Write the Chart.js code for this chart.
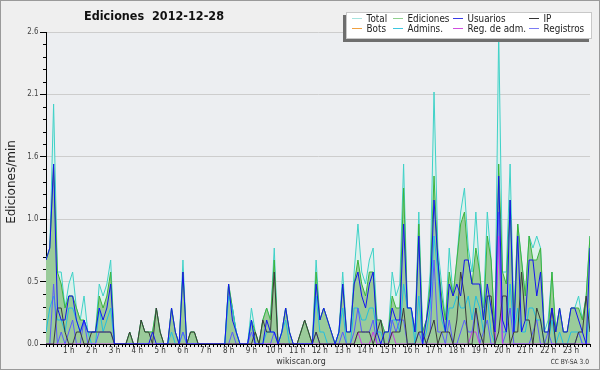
<!DOCTYPE html>
<html>
<head>
<meta charset="utf-8">
<title>Ediciones 2012-12-28</title>
<script src="https://cdn.jsdelivr.net/npm/chart.js@4.4.0/dist/chart.umd.min.js"></script>
<style>
  html, body { margin: 0; padding: 0; background: #efefef; }
  #wrap { width: 600px; height: 370px; }
</style>
</head>
<body>
<div id="wrap"><canvas id="chart" width="600" height="370"></canvas></div>
<script>
// one value every 10 minutes (144 per day), edits per minute
const hourLabels = ['1 h','2 h','3 h','4 h','5 h','6 h','7 h','8 h','9 h','10 h','11 h','12 h',
  '13 h','14 h','15 h','16 h','17 h','18 h','19 h','20 h','21 h','22 h','23 h'];
const yTicks = [0, 0.52, 1.04, 1.56, 2.08, 2.6];

const total = [
  .7, .8, 2.0, .6, .6, .3, .5, .6, .3, .2, .4, .1,
  .1, .1, .5, .4, .5, .7, 0, 0, 0, 0, .1, 0,
  0, .2, .1, .1, .1, .3, .1, 0, 0, .3, .1, 0,
  .7, 0, .1, .1, 0, 0, 0, 0, 0, 0, 0, 0,
  .5, .3, .1, 0, 0, 0, .3, .1, 0, .2, .3, .2,
  .8, 0, .1, .3, .1, 0, 0, .1, .2, .1, 0, .7,
  .2, .3, .2, .1, 0, .1, .6, .1, .1, .6, 1.0, .6,
  .5, .7, .8, .2, .2, .1, .1, .6, .4, .5, 1.5, .3,
  .3, .1, 1.1, .1, .2, .6, 2.1, .8, .5, .2, .8, .4,
  .7, 1.1, 1.3, .8, .6, 1.1, .6, .3, 1.1, .7, .1, 2.6,
  .6, .6, 1.5, .2, 1.0, .7, .4, .9, .8, .9, .8, .1,
  .2, .6, .1, .3, .1, .1, .3, .3, .4, .2, .4, .9
];
const ediciones = [
  .7, .8, 1.5, .6, .5, .3, .4, .4, .3, .2, .2, .1,
  .1, .1, .4, .3, .4, .6, 0, 0, 0, 0, .1, 0,
  0, .2, .1, .1, .1, .3, .1, 0, 0, .3, .1, 0,
  .6, 0, .1, .1, 0, 0, 0, 0, 0, 0, 0, 0,
  .5, .3, .1, 0, 0, 0, .2, .1, 0, .2, .3, .2,
  .7, 0, .1, .3, .1, 0, 0, .1, .2, .1, 0, .6,
  .2, .3, .2, .1, 0, .1, .5, .1, .1, .5, .7, .5,
  .4, .6, .6, .2, .2, .1, .1, .4, .3, .3, 1.3, .3,
  .3, .1, 1.0, .1, .2, .5, 1.4, .7, .4, .2, .6, .4,
  .7, 1.0, 1.1, .7, .5, .8, .6, .2, .9, .7, .1, 1.5,
  .6, .5, 1.2, .2, 1.0, .7, .4, .9, .7, .7, .8, .1,
  .1, .6, .1, .3, .1, .1, .3, .3, .3, .2, .4, .9
];
const usuarios = [
  .7, .8, 1.5, .3, .2, .2, .4, .4, .2, .1, .2, .1,
  .1, .1, .3, .2, .3, .5, 0, 0, 0, 0, 0, 0,
  0, 0, 0, 0, .1, 0, 0, 0, 0, .3, .1, 0,
  .6, 0, 0, 0, 0, 0, 0, 0, 0, 0, 0, 0,
  .5, .2, .1, 0, 0, 0, .2, 0, 0, 0, .2, .1,
  .1, 0, .1, .3, .1, 0, 0, 0, 0, 0, 0, .5,
  .2, .3, .2, .1, 0, .1, .5, .1, .1, .5, .6, .4,
  .3, .5, .6, .1, 0, .1, .1, .3, .2, .2, 1.0, .3,
  .3, .1, .9, 0, .2, .4, 1.2, .7, .3, .1, .5, .4,
  .5, .4, .7, .7, .5, .5, .5, .2, .5, .3, .1, 1.4,
  .2, .1, 1.2, .1, .9, .1, .2, .7, .7, .4, .6, .1,
  .1, .3, .1, .3, .1, .1, .3, .3, .2, .1, 0, .8
];
const ip = [
  0, 0, 0, .3, .3, .1, 0, 0, .1, .1, 0, 0,
  .1, .1, .1, .1, .1, .1, 0, 0, 0, 0, .1, 0,
  0, .2, .1, .1, 0, .3, .1, 0, 0, 0, 0, 0,
  0, 0, .1, .1, 0, 0, 0, 0, 0, 0, 0, 0,
  0, 0, 0, 0, 0, 0, 0, .1, 0, .2, .1, .1,
  .6, 0, 0, 0, 0, 0, 0, .1, .2, .1, 0, .1,
  0, 0, 0, 0, 0, 0, 0, 0, 0, 0, .1, .1,
  .1, .1, 0, .1, .2, 0, 0, .1, .1, .1, .3, 0,
  0, 0, .1, .1, 0, .1, .2, 0, .1, .1, .1, 0,
  .2, .6, .4, 0, 0, .3, .1, 0, .4, .4, 0, .1,
  .4, .4, 0, .1, .1, .6, .2, .2, 0, .3, .2, 0,
  0, .3, 0, 0, 0, 0, 0, 0, .1, .1, .4, .1
];
const admins = [
  .1, .3, .4, .2, .2, .1, .3, .3, .2, .1, .2, .1,
  0, 0, .3, .1, .2, .3, 0, 0, 0, 0, 0, 0,
  0, 0, 0, 0, 0, 0, 0, 0, 0, .1, 0, 0,
  .1, 0, 0, 0, 0, 0, 0, 0, 0, 0, 0, 0,
  .4, .3, .1, 0, 0, 0, .2, 0, 0, 0, .1, .1,
  .1, 0, .1, .2, 0, 0, 0, 0, 0, 0, 0, .4,
  .1, .1, 0, 0, 0, .1, .3, 0, 0, .3, .3, .2,
  .2, .3, .3, .1, .1, 0, 0, .2, .2, .1, .5, .3,
  .3, 0, .4, 0, .1, .3, .9, .6, .2, .1, .3, .3,
  .4, .3, .3, .4, .2, .4, .3, .1, .4, .1, 0, .9,
  .1, .1, .5, .1, .3, .1, .1, .3, .3, .2, .2, 0,
  0, .2, 0, .1, 0, 0, .1, .1, .1, 0, 0, .3
];
const registros = [
  0, 0, .5, 0, .1, 0, .1, .2, 0, 0, .2, 0,
  0, 0, .1, .1, .1, .1, 0, 0, 0, 0, 0, 0,
  0, 0, 0, 0, 0, 0, 0, 0, 0, 0, 0, 0,
  .1, 0, 0, 0, 0, 0, 0, 0, 0, 0, 0, 0,
  0, .1, 0, 0, 0, 0, .1, 0, 0, 0, 0, 0,
  .1, 0, 0, 0, 0, 0, 0, 0, 0, 0, 0, .1,
  0, 0, 0, 0, 0, 0, .1, 0, 0, .1, .3, .1,
  .1, .1, .2, 0, 0, 0, 0, .2, .1, .2, .2, 0,
  0, 0, .1, 0, 0, .1, .7, .1, .1, 0, .2, 0,
  0, .1, .2, .1, .1, .3, 0, .1, .2, 0, 0, 1.1,
  0, .1, .3, 0, 0, 0, 0, 0, .1, .2, 0, 0,
  .1, 0, 0, 0, 0, 0, 0, 0, .1, 0, 0, 0
];
const regAdm = [
  0, 0, 0, 0, 0, 0, 0, 0, 0, 0, 0, 0,
  0, 0, 0, 0, 0, 0, 0, 0, 0, 0, 0, 0,
  0, 0, 0, 0, 0, 0, 0, 0, 0, 0, 0, 0,
  0, 0, 0, 0, 0, 0, 0, 0, 0, 0, 0, 0,
  0, 0, 0, 0, 0, 0, 0, 0, 0, 0, 0, 0,
  0, 0, 0, 0, 0, 0, 0, 0, 0, 0, 0, 0,
  0, 0, 0, 0, 0, 0, 0, 0, 0, 0, .1, 0,
  0, 0, .1, 0, 0, 0, 0, .1, 0, 0, 0, 0,
  0, 0, 0, 0, 0, 0, 0, 0, 0, 0, 0, 0,
  0, 0, 0, 0, .1, .1, 0, 0, 0, 0, 0, .9,
  0, 0, 0, 0, 0, 0, 0, 0, 0, 0, 0, 0,
  0, 0, 0, 0, 0, 0, 0, 0, 0, 0, 0, 0
];

// legend entries, in the reference's order (Bots has no edits this day)
const legendItems = [
  ['Total', '#a6e3de'], ['Ediciones', '#8fd08f'], ['Usuarios', '#3a3ae6'], ['IP', '#333333'],
  ['Bots', '#f0a040'], ['Admins.', '#3cc6e0'], ['Reg. de adm.', '#d04ee0'], ['Registros', '#7c7cf4']
];

const FONT = '"DejaVu Sans", Verdana, sans-serif';
const pts = arr => arr.map((v, i) => ({ x: i, y: v }));

// text squeezed horizontally, the reference uses a narrow face
function txt(ctx, s, x, y, font, sx, align) {
  ctx.save();
  ctx.font = font;
  ctx.translate(x, y);
  ctx.scale(sx, 1);
  ctx.textAlign = align || 'center';
  ctx.textBaseline = 'middle';
  ctx.fillText(s, 0, 0);
  ctx.restore();
}

// fondo, titulo, leyenda y textos
const decor = {
  id: 'decor',
  beforeDraw(chart) {
    const { ctx, chartArea: a } = chart;
    ctx.save();
    ctx.fillStyle = '#efefef';
    ctx.fillRect(0, 0, 600, 370);
    ctx.strokeStyle = '#9a9a9a';
    ctx.lineWidth = 1;
    ctx.strokeRect(0.5, 0.5, 599, 369);
    ctx.fillStyle = '#eceef1';
    ctx.fillRect(a.left, a.top, a.right - a.left, a.bottom - a.top);
    ctx.restore();
  },
  afterDraw(chart) {
    const { ctx, chartArea: a } = chart;
    const x = chart.scales.x, y = chart.scales.y;
    ctx.save();

    // minor ticks on the y axis
    ctx.strokeStyle = '#000';
    ctx.lineWidth = 1;
    for (let k = 1; k < 25; k++) {
      if (k % 5 === 0) continue;
      const py = Math.round(y.getPixelForValue(k * 0.104)) + 0.5;
      ctx.beginPath();
      ctx.moveTo(a.left - 3, py);
      ctx.lineTo(a.left, py);
      ctx.stroke();
    }

    // tick labels
    ctx.fillStyle = '#444';
    yTicks.forEach(v => txt(ctx, v.toFixed(1), 38.5, y.getPixelForValue(v), '8px ' + FONT, 0.88, 'right'));
    ctx.fillStyle = '#333';
    hourLabels.forEach((s, h) => txt(ctx, s, x.getPixelForValue((h + 1) * 6), 350.5, '9px ' + FONT, 0.8));

    // title
    ctx.fillStyle = '#111';
    txt(ctx, 'Ediciones  2012-12-28', 154, 16.5, 'bold 12.5px ' + FONT, 0.9);

    // y title
    ctx.save();
    ctx.translate(12, 182);
    ctx.rotate(-Math.PI / 2);
    ctx.fillStyle = '#222';
    txt(ctx, 'Ediciones/min', 0, 0, '12px ' + FONT, 1);
    ctx.restore();

    // footer
    ctx.fillStyle = '#333';
    txt(ctx, 'wikiscan.org', 301, 361.5, '9px ' + FONT, 0.88);
    txt(ctx, 'CC BY-SA 3.0', 589, 362.5, '7px ' + FONT, 0.85, 'right');

    // legend box with shadow
    ctx.fillStyle = '#6e6e6e';
    ctx.fillRect(343, 15, 246, 27);
    ctx.fillStyle = '#ffffff';
    ctx.fillRect(346, 12, 246, 27);
    ctx.strokeStyle = '#c8c8c8';
    ctx.strokeRect(346.5, 12.5, 245, 26);
    const colX = [352, 393, 453, 529];
    legendItems.forEach(([name, color], n) => {
      const cx = colX[n % 4];
      const cy = n < 4 ? 18.5 : 28.5;
      ctx.strokeStyle = color;
      ctx.beginPath();
      ctx.moveTo(cx, cy);
      ctx.lineTo(cx + 10, cy);
      ctx.stroke();
      ctx.fillStyle = '#222';
      txt(ctx, name, cx + 14.5, cy + 0.5, '10.5px ' + FONT, 0.84, 'left');
    });
    ctx.restore();
  }
};

const line = (label, data, color, order, fill) => ({
  label, data: pts(data), borderColor: color, borderWidth: 1,
  backgroundColor: fill || 'transparent', fill: fill ? 'origin' : false,
  pointRadius: 0, tension: 0, order
});

new Chart(document.getElementById('chart'), {
  type: 'line',
  data: {
    datasets: [
      line('Usuarios', usuarios, '#1414f0', 1),
      line('IP', ip, '#3a3a3a', 2),
      line('Reg. de adm.', regAdm, '#c83ce6', 3),
      line('Registros', registros, '#5a5aff', 4),
      line('Admins.', admins, '#22bfe0', 5),
      line('Ediciones', ediciones, '#3cb43c', 6, '#9acb9a'),
      line('Total', total, '#3fd2c8', 7, '#dcf1ec')
    ]
  },
  options: {
    responsive: false,
    animation: false,
    layout: { padding: { left: 0, right: 10, top: 32, bottom: 0 } },
    plugins: { legend: { display: false }, tooltip: { enabled: false } },
    scales: {
      x: {
        type: 'linear', min: 0, max: 143, z: 1,
        afterBuildTicks: s => { s.ticks = total.map((_, i) => ({ value: i })); },
        afterFit: s => { s.height = 26; },
        grid: { drawOnChartArea: false, color: '#000', tickLength: 3 },
        border: { color: '#000' },
        ticks: { display: false }
      },
      y: {
        min: 0, max: 2.6,
        afterBuildTicks: s => { s.ticks = yTicks.map(v => ({ value: v })); },
        afterFit: s => { s.width = 46; },
        grid: { color: '#cdcdcd', tickColor: '#000', tickLength: 6 },
        border: { color: '#000' },
        ticks: { display: false }
      }
    }
  },
  plugins: [decor]
});
</script>
</body>
</html>
